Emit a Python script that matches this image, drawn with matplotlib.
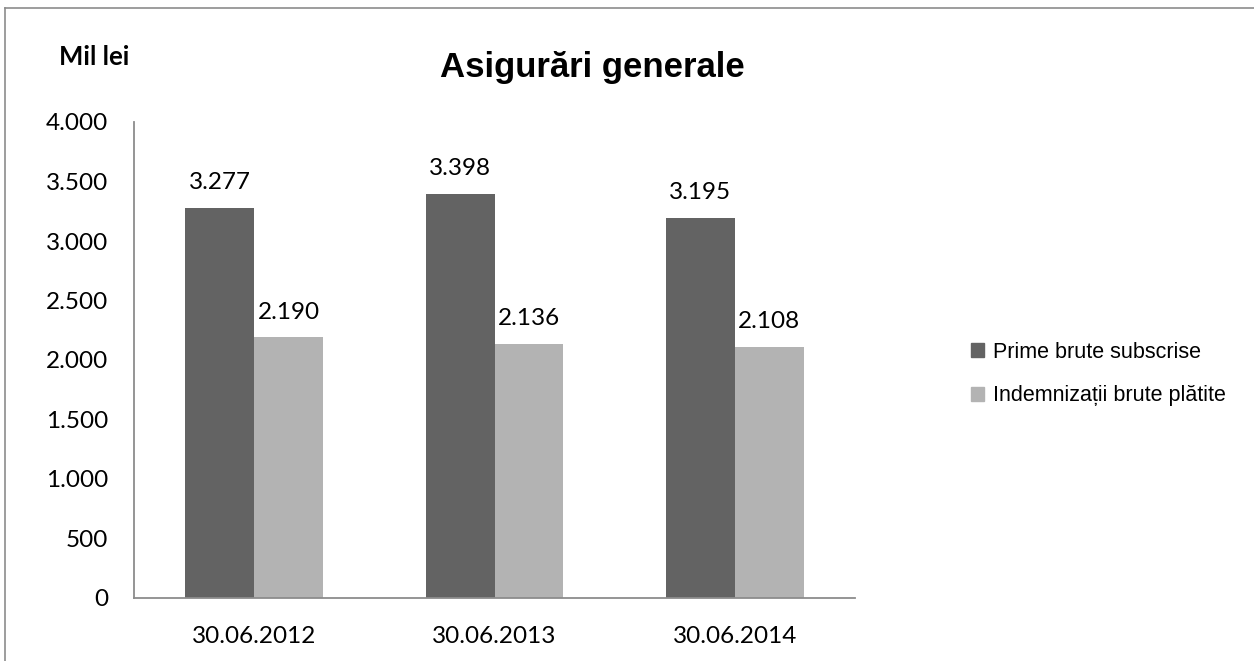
import matplotlib
matplotlib.use("Agg")
import matplotlib.pyplot as plt
import numpy as np
from matplotlib.lines import Line2D
from matplotlib.patches import Patch
from matplotlib.ticker import FuncFormatter

categories = ["30.06.2012", "30.06.2013", "30.06.2014"]
prime = [3277, 3398, 3195]
indemnizatii = [2190, 2136, 2108]
series_names = ["Prime brute subscrise", "Indemnizații brute plătite"]
y_ticks = [0, 500, 1000, 1500, 2000, 2500, 3000, 3500, 4000]

dark = "#636363"
light = "#b3b3b3"
axis_col = "#8c8c8c"
arial = ["Liberation Sans", "DejaVu Sans"]
calib = ["Lato", "DejaVu Sans"]

W, H = 1254, 661
fig = plt.figure(figsize=(W / 100, H / 100), dpi=100)
ax = fig.add_axes([134 / W, 1 - 598 / H, (855 - 134) / W, (598 - 122) / H])

x = np.arange(len(categories))
bw = 0.286
b1 = ax.bar(x - bw / 2, prime, bw, color=dark, label=series_names[0])
b2 = ax.bar(x + bw / 2, indemnizatii, bw, color=light, label=series_names[1])

# etichete de date deasupra barelor, cu punct ca separator de mii
fmt = lambda v: f"{int(v):,}".replace(",", ".")
for bars in (b1, b2):
    for r in bars:
        ax.annotate(fmt(r.get_height()), (r.get_x() + r.get_width() / 2, r.get_height()),
                    xytext=(0, 13.5), textcoords="offset points", ha="center", va="baseline",
                    fontsize=17.5, family=calib)

ax.set_xlim(-0.5, 2.5)
ax.set_ylim(0, 4000)
ax.set_yticks(y_ticks)
ax.yaxis.set_major_formatter(FuncFormatter(lambda v, p: fmt(v)))
ax.set_xticks(x)
ax.set_xticklabels(categories)
for lab in ax.get_xticklabels() + ax.get_yticklabels():
    lab.set_family(calib)
    lab.set_fontsize(17.5)
ax.tick_params(axis="y", length=0, pad=18.5)
ax.tick_params(axis="x", length=0, pad=20)
for s in ("top", "right"):
    ax.spines[s].set_visible(False)
for s in ("left", "bottom"):
    ax.spines[s].set_color(axis_col)
    ax.spines[s].set_linewidth(1.3)

fig.text(592 / W, 1 - 77 / H, "Asigurări generale", ha="center", va="baseline",
         fontsize=25, fontweight="bold", family=arial)
fig.text(94 / W, 1 - 65 / H, "Mil lei", ha="center", va="baseline",
         fontsize=18.5, fontweight="bold", family=calib)

handles = [Patch(color=dark), Patch(color=light)]
fig.legend(handles, series_names, loc="center left", bbox_to_anchor=(971 / W, 1 - 374 / H),
           frameon=False, prop={"family": arial, "size": 15.5},
           handlelength=0.6, handleheight=0.6, handletextpad=0.4, labelspacing=1.05,
           borderpad=0, borderaxespad=0)

# chenarul graficului (doar sus si stanga sunt vizibile)
fig.add_artist(Line2D([5 / W, 1], [1 - 8 / H, 1 - 8 / H], color=axis_col, lw=1.2))
fig.add_artist(Line2D([5 / W, 5 / W], [0, 1 - 8 / H], color=axis_col, lw=1.2))

fig.savefig("out.png", dpi=100, facecolor="white")
